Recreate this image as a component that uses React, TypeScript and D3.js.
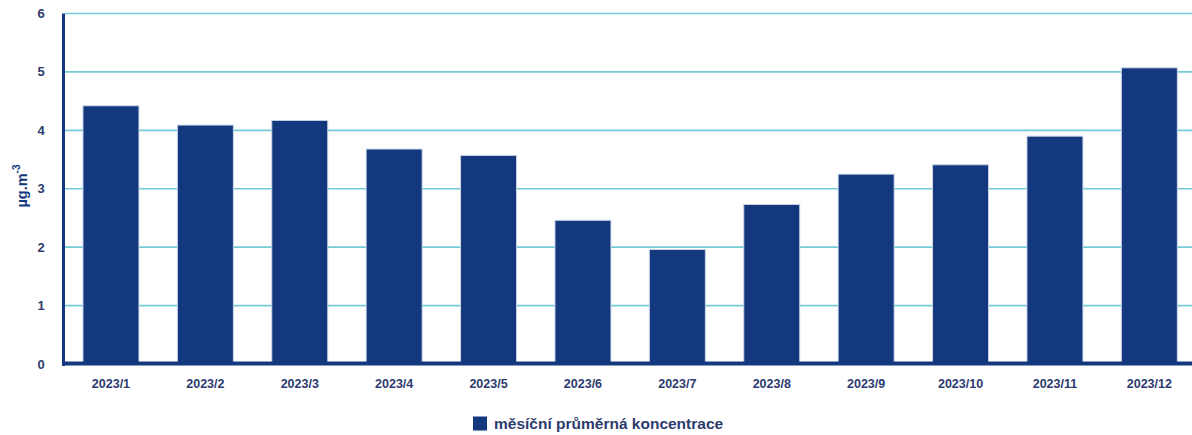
import React from "react";
import * as d3 from "d3";

const categories = ["2023/1", "2023/2", "2023/3", "2023/4", "2023/5", "2023/6", "2023/7", "2023/8", "2023/9", "2023/10", "2023/11", "2023/12"];
const values = [4.42, 4.09, 4.17, 3.68, 3.57, 2.46, 1.96, 2.73, 3.25, 3.41, 3.9, 5.07];
const yTicks = [0, 1, 2, 3, 4, 5, 6];
const seriesName = "měsíční průměrná koncentrace";

const W = 1192;
const H = 435;
const x0 = 64;
const x1 = 1196.3;
const yTop = 13.5;
const yBottom = 364;

const BAR = "#14387e";
const GRID = "#74cbd8";
const TEXT = "#2d3b6e";
const FONT = "'Liberation Sans', Arial, sans-serif";

export default function App() {
  const x = d3.scaleBand<string>().domain(categories).range([x0, x1]).paddingInner(0.407).paddingOuter(0.201);
  const y = d3.scaleLinear().domain([0, 6]).range([yBottom, yTop]);

  return (
    <svg width={W} height={H} style={{ position: "absolute", left: 0, top: 0, background: "#fff" }} fontFamily={FONT}>
      {yTicks.filter((t) => t > 0).map((t) => (
        <line key={"g" + t} x1={65} x2={W} y1={y(t)} y2={y(t)} stroke={GRID} strokeWidth={1.6} />
      ))}
      {categories.map((c, i) => (
        <rect
          key={c}
          x={x(c)!}
          y={y(values[i])}
          width={x.bandwidth()}
          height={y(0) - y(values[i])}
          fill={BAR}
          stroke="#c9d3e6"
          strokeWidth={1}
        />
      ))}
      {/* axes */}
      <line x1={63.5} x2={63.5} y1={yTop} y2={366} stroke={BAR} strokeWidth={3} />
      <line x1={62} x2={W} y1={363.5} y2={363.5} stroke={BAR} strokeWidth={4} />
      {yTicks.map((t) => (
        <text key={"t" + t} x={41} y={y(t)} dy="0.35em" textAnchor="middle" fontSize={13} fontWeight="bold" fill={TEXT}>
          {t}
        </text>
      ))}
      <text
        transform={`translate(27, 186) rotate(-90)`}
        textAnchor="middle"
        fontSize={14.5}
        fontWeight="bold"
        fill={BAR}
      >
        µg.m<tspan fontSize={10} dy={-7}>-3</tspan>
      </text>
      {categories.map((c) => (
        <text key={"x" + c} x={x(c)! + x.bandwidth() / 2} y={384} dy="0.35em" textAnchor="middle" fontSize={12.5} fontWeight="bold" fill={TEXT}>
          {c}
        </text>
      ))}
      <rect x={473} y={416.5} width={14} height={14} fill={BAR} />
      <text x={494} y={423.5} dy="0.35em" fontSize={15.5} fontWeight="bold" fill={TEXT}>
        {seriesName}
      </text>
    </svg>
  );
}
